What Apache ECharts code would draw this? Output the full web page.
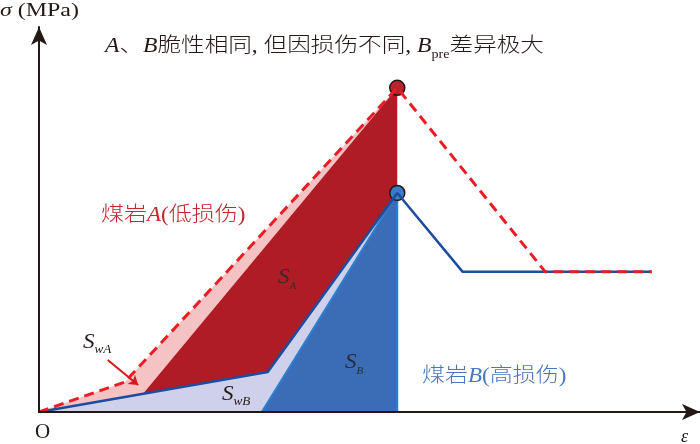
<!DOCTYPE html>
<html>
<head>
<meta charset="utf-8">
<script src="https://cdn.jsdelivr.net/npm/echarts@6/dist/echarts.min.js"></script>
<style>
  html, body { margin: 0; padding: 0; background: #fff; }
  #chart { width: 700px; height: 444px; }
</style>
</head>
<body>
<div id="chart"></div>
<script>
  // 应力-应变示意曲线, 每点为 [ε, σ]
  var curveA = [[0, 0], [1.30, 7.8], [5.42, 84.2], [7.66, 36.4], [9.27, 36.4]];
  var curveB = [[0, 0], [3.46, 10.4], [5.42, 56.9], [6.41, 36.4], [9.27, 36.4]];
  var peakA = [5.42, 84.2];
  var peakB = [5.42, 56.9];

  // 面积区域
  var areaSwA = [[0, 0], [1.30, 7.8], [5.42, 84.2], [1.57, 4.7]];
  var areaSA = [[1.57, 4.7], [3.46, 10.4], [5.42, 56.9], [5.42, 84.2]];
  var areaSwB = [[0, 0], [3.46, 10.4], [5.42, 56.9], [3.37, 0]];
  var areaSB = [[3.37, 0], [5.42, 56.9], [5.42, 0]];

  // S_wA 指示箭头
  var arrowSwA = [[1.04, 13.5], [1.50, 7.0]];

  var FONT = "'Liberation Serif', 'Noto Sans CJK SC', serif";

  function polySeries(pts, fill, stroke, lw) {
    return {
      type: 'custom',
      coordinateSystem: 'cartesian2d',
      silent: true,
      data: [pts[0]],
      renderItem: function (params, api) {
        return {
          type: 'polygon',
          shape: {points: pts.map(function (p) { return api.coord(p); })},
          style: {fill: fill, stroke: stroke || null, lineWidth: lw || 0}
        };
      }
    };
  }

  var axisCommon = {
    type: 'value',
    z: 10,
    axisLine: {
      show: true,
      symbol: ['none', 'arrow'],
      symbolSize: [12, 18],
      lineStyle: {color: '#231815', width: 2}
    },
    axisTick: {show: false},
    axisLabel: {show: false},
    splitLine: {show: false}
  };

  // 文字: x,y 为左端中点, sx 为横向拉伸
  function txt(x, y, text, size, color, sx, subSize) {
    var lh = Math.round(size * 1.35);
    var rich = {
      n: {fontFamily: FONT, fontSize: size, lineHeight: lh, fontWeight: 300},
      i: {fontFamily: FONT, fontSize: size, lineHeight: lh, fontStyle: 'italic'},
      sub: {fontFamily: FONT, fontSize: subSize || 11, fontStyle: 'italic', verticalAlign: 'bottom', lineHeight: lh},
      subn: {fontFamily: FONT, fontSize: subSize || 11, verticalAlign: 'bottom', lineHeight: lh}
    };
    return {
      type: 'text', z: 100, x: x, y: y, scaleX: sx || 1,
      style: {
        text: text, x: 0, y: 0,
        fontFamily: FONT, fontSize: size, fontWeight: 300, fill: color || '#231815',
        textVerticalAlign: 'middle', textAlign: 'left',
        rich: rich
      }
    };
  }

  var chart = echarts.init(document.getElementById('chart'));
  chart.setOption({
    backgroundColor: '#ffffff',
    animation: false,
    grid: {left: 39, right: 0, top: 27, bottom: 32},
    xAxis: Object.assign({min: 0, max: 10}, axisCommon),
    yAxis: Object.assign({min: 0, max: 100}, axisCommon),
    series: [
      polySeries(areaSwA, '#f6c3c5'),
      polySeries(areaSA, '#b01c25'),
      polySeries(areaSwB, '#cfd0ea'),
      polySeries(areaSB, '#3b6db7', '#2b80d0', 2),
      {
        type: 'line',
        data: curveB,
        symbol: 'none',
        silent: true,
        lineStyle: {color: '#1c4d9e', width: 2.5}
      },
      {
        type: 'line',
        data: curveA,
        symbol: 'none',
        silent: true,
        lineStyle: {color: '#ec1c24', width: 3, type: [10, 6]},
        markLine: {
          silent: true,
          symbol: ['none', 'arrow'],
          symbolSize: 9,
          label: {show: false},
          lineStyle: {color: '#d9161c', width: 2, type: 'solid'},
          data: [[{coord: arrowSwA[0]}, {coord: arrowSwA[1]}]]
        }
      },
      {
        type: 'scatter',
        data: [peakA],
        symbolSize: 15,
        silent: true,
        itemStyle: {color: '#b5232b', opacity: 1, borderColor: '#231815', borderWidth: 1.5}
      },
      {
        type: 'scatter',
        data: [peakB],
        symbolSize: 15,
        silent: true,
        itemStyle: {color: '#3b7bc8', opacity: 1, borderColor: '#231815', borderWidth: 1.5}
      }
    ],
    graphic: [
      txt(0, 11, '{i|σ}{n| (MPa)}', 18, null, 1.33),
      txt(105, 47, '{i|A}{n|、}{i|B}{n|脆性相同, 但因损伤不同, }{i|B}{subn|pre}{n|差异极大}', 20, null, 1.18, 12),
      txt(101, 216, '{n|煤岩}{i|A}{n|(低损伤)}', 20, '#c1272d', 1.15),
      txt(422, 377, '{n|煤岩}{i|B}{n|(高损伤)}', 20, '#4a76c1', 1.15),
      txt(278, 277, '{i|S}{sub|A}', 21, '#3a2a2a', 1.1, 10),
      txt(345, 362, '{i|S}{sub|B}', 21, '#2a2a33', 1.1, 10),
      txt(83, 342, '{i|S}{sub|wA}', 21, '#231815', 1.1, 12),
      txt(222, 394, '{i|S}{sub|wB}', 21, '#231815', 1.1, 12),
      txt(35, 432, '{n|O}', 21),
      txt(681, 437, '{i|ε}', 18)
    ]
  });
</script>
</body>
</html>
